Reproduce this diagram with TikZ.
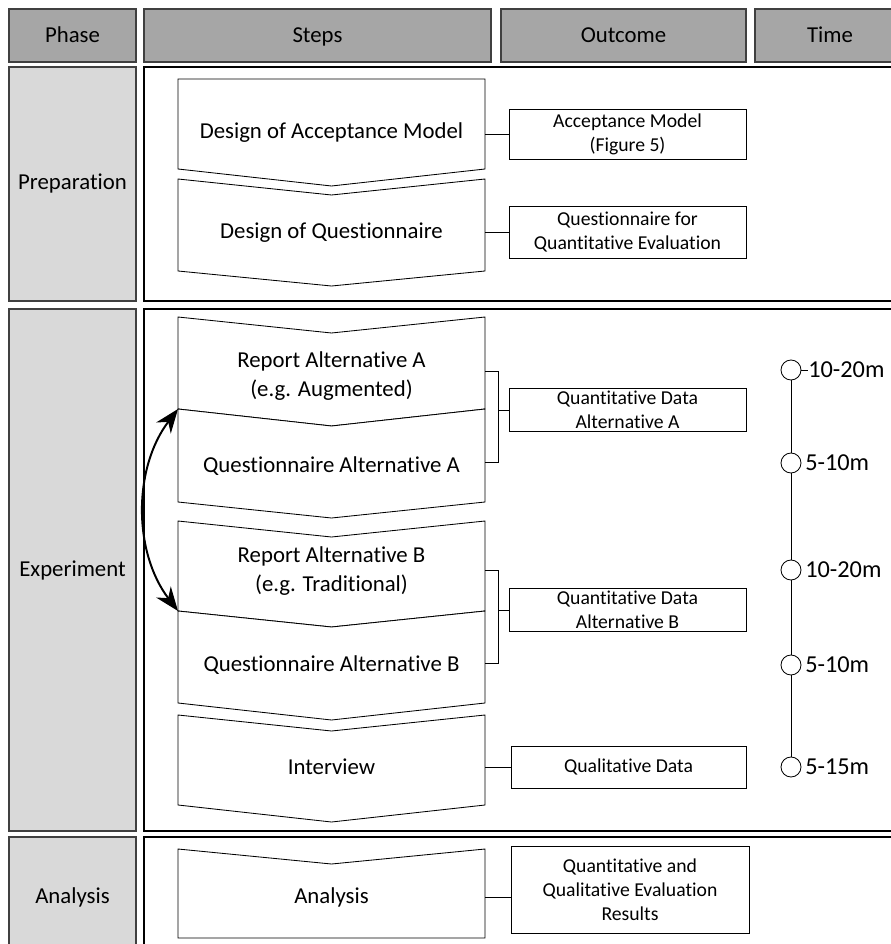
\documentclass[tikz,border=0pt]{standalone}
\usepackage{fontspec}
\setmainfont{Carlito}[Ligatures=NoCommon]
\usetikzlibrary{arrows.meta,positioning}
\definecolor{hdr_grey}{RGB}{166,166,166}
\definecolor{phase_grey}{RGB}{217,217,217}
\definecolor{edge_grey}{RGB}{64,64,64}
\newcommand{\pxl}{0.025cm}

\begin{document}
\begin{tikzpicture}[x=0.025cm,y=-0.025cm,
    hdr/.style={draw=edge_grey,fill=hdr_grey,line width=0.8pt,inner sep=0pt,
      minimum height=53*\pxl,text height=10.5pt,text depth=0pt,
      font=\fontsize{16.2}{20}\selectfont},
    phasebox/.style={draw=edge_grey,fill=phase_grey,line width=0.8pt,inner sep=0pt,
      minimum width=127*\pxl,font=\fontsize{16.2}{20}\selectfont},
    lane/.style={draw=black,line width=0.9pt},
    chev/.style={draw=black,fill=white,line width=0.6pt},
    steptxt/.style={font=\fontsize{16.2}{20}\selectfont,align=center},
    outbox/.style={draw=black,line width=0.7pt,inner sep=0pt,align=center,
      font=\fontsize{14}{17}\selectfont},
    link/.style={line width=0.6pt},
    tick/.style={circle,draw=black,fill=white,minimum size=20*\pxl,inner sep=0pt,line width=0.6pt},
    tlabel/.style={font=\fontsize{17.3}{20}\selectfont,anchor=west,inner sep=0pt}]
  \useasboundingbox (0,0) rectangle (891,944);
  \clip (0,0) rectangle (891,944);

  % header row
  \node[hdr,minimum width=127*\pxl] (hphase) at (72.5,35.5) {Phase};
  \node[hdr,minimum width=347*\pxl] (hsteps) at (317.5,35.5) {Steps};
  \node[hdr,minimum width=245*\pxl] (hout) at (623.5,35.5) {Outcome};
  \node[hdr,minimum width=150*\pxl] (htime) at (830,35.5) {Time};

  % phases
  \node[phasebox,minimum height=234*\pxl] (prep) at (72.5,184) {Preparation};
  \node[phasebox,minimum height=522*\pxl] (expt) at (72.5,570) {Experiment};
  \node[phasebox,minimum height=120*\pxl] (anph) at (72.5,897) {Analysis};
  \draw[lane] (144,67) rectangle (905,301);
  \draw[lane] (144,309) rectangle (905,831);
  \draw[lane] (144,837) rectangle (905,957);

  % steps
  \draw[chev] (178,79) -- (485,79) -- (485,169) -- (331.5,186) -- (178,169) -- cycle;
  \draw[chev] (178,179) -- (331.5,195) -- (485,179) -- (485,271) -- (331.5,286) -- (178,271) -- cycle;
  \draw[chev] (178,317) -- (331.5,333) -- (485,317) -- (485,409) -- (331.5,426) -- (178,409) -- cycle;
  \draw[chev] (178,409) -- (331.5,426) -- (485,409) -- (485,502) -- (331.5,518) -- (178,502) -- cycle;
  \draw[chev] (178,521) -- (331.5,537) -- (485,521) -- (485,611) -- (331.5,627) -- (178,611) -- cycle;
  \draw[chev] (178,611) -- (331.5,627) -- (485,611) -- (485,703) -- (331.5,720) -- (178,703) -- cycle;
  \draw[chev] (178,715) -- (331.5,731) -- (485,715) -- (485,805) -- (331.5,822) -- (178,805) -- cycle;
  \draw[chev] (178,849) -- (331.5,864) -- (485,849) -- (485,938) -- (178,938) -- cycle;

  \node[steptxt] (dam) at (331.5,133) {Design of Acceptance Model};
  \node[steptxt] (dq) at (331.5,233) {Design of Questionnaire};
  \node[steptxt] (ra) at (331.5,376) {Report Alternative A\\(e.g. Augmented)};
  \node[steptxt] (qa) at (331.5,466) {Questionnaire Alternative A};
  \node[steptxt] (rb) at (331.5,571) {Report Alternative B\\(e.g. Traditional)};
  \node[steptxt] (qb) at (331.5,665) {Questionnaire Alternative B};
  \node[steptxt] (iv) at (331.5,767) {Interview};
  \node[steptxt] (an) at (331.5,897) {Analysis};

  % outcomes
  \node[outbox,minimum width=237*\pxl,minimum height=50*\pxl] (oam) at (627.5,134) {Acceptance Model\\(Figure 5)};
  \node[outbox,minimum width=237*\pxl,minimum height=52*\pxl] (oq) at (627.5,232) {Questionnaire for\\Quantitative Evaluation};
  \node[outbox,minimum width=237*\pxl,minimum height=43*\pxl] (oqa) at (627.5,410) {Quantitative Data\\Alternative A};
  \node[outbox,minimum width=237*\pxl,minimum height=43*\pxl] (oqb) at (627.5,610) {Quantitative Data\\Alternative B};
  \node[outbox,minimum width=235*\pxl,minimum height=42*\pxl] (oql) at (628.5,767) {Qualitative Data};
  \node[outbox,minimum width=238*\pxl,minimum height=87*\pxl] (oan) at (630,889.5) {Quantitative and\\Qualitative Evaluation\\Results};

  % links step -> outcome
  \coordinate (edge) at (485,0);
  \draw[link] (oam -| edge) -- (oam);
  \draw[link] (oq -| edge) -- (oq);
  \coordinate (brA1) at (485,371);
  \coordinate (brA2) at (485,462);
  \draw[link] (brA1) -- ++(13,0) coordinate (brA) |- (brA2);
  \draw[link] (brA |- oqa) -- (oqa);
  \coordinate (brB1) at (485,570);
  \coordinate (brB2) at (485,663);
  \draw[link] (brB1) -- ++(13,0) coordinate (brB) |- (brB2);
  \draw[link] (brB |- oqb) -- (oqb);
  \draw[link] (iv -| edge) -- (oql);
  \draw[link] (an -| edge) -- (an -| oan.west);

  % swap A/B order
  \coordinate (swA) at (178,409);
  \coordinate (swB) at (178,611);
  \draw[{Stealth[length=17pt,width=13pt]}-{Stealth[length=17pt,width=13pt]},line width=1.4pt]
    (swA) .. controls (133,468) and (133,552) .. (swB);

  % time line
  \node[tick] (t1) at (791,370) {};
  \node[tick] (t2) at (791,463) {};
  \node[tick] (t3) at (791,570) {};
  \node[tick] (t4) at (791,665) {};
  \node[tick] (t5) at (791,767) {};
  \draw[link] (t1) -- (t2) (t2) -- (t3) (t3) -- (t4) (t4) -- (t5);
  \node[tlabel] (l1) at (808,370) {10-20m};
  \node[tlabel] (l2) at (805,463) {5-10m};
  \node[tlabel] (l3) at (805,570) {10-20m};
  \node[tlabel] (l4) at (805,665) {5-10m};
  \node[tlabel] (l5) at (805,767) {5-15m};
  \draw[link] (t1) -- (l1);
\end{tikzpicture}
\end{document}
